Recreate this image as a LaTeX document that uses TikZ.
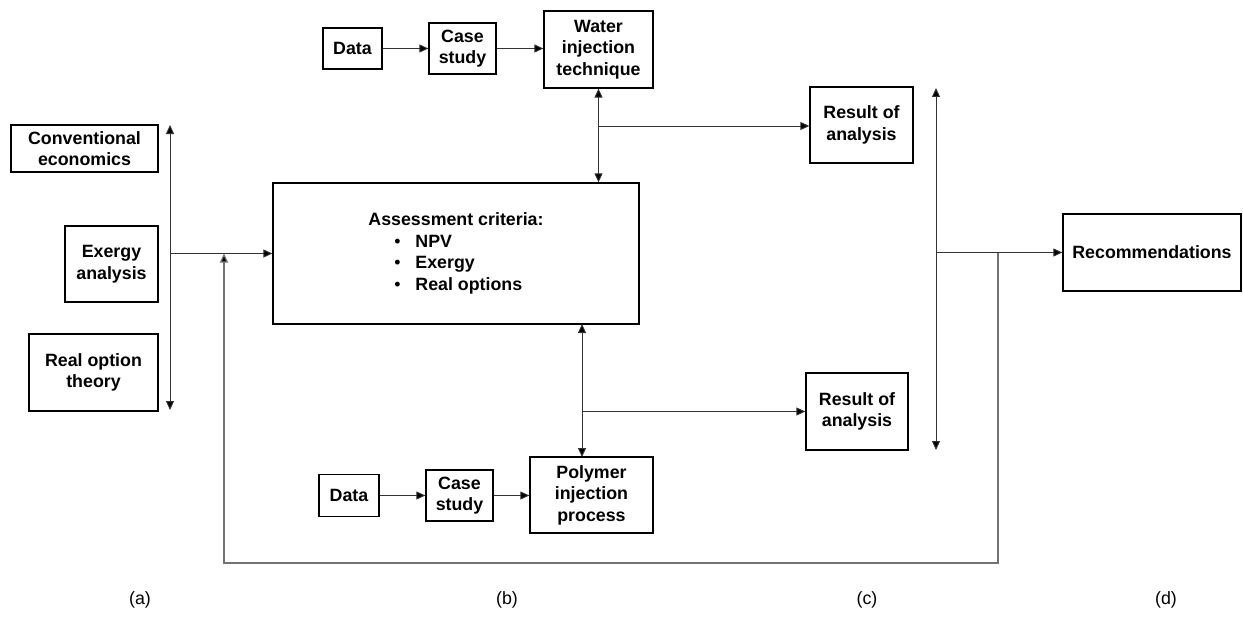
\documentclass[tikz,border=0pt]{standalone}
\usepackage{fontspec}
\setmainfont{Liberation Sans}
\usetikzlibrary{arrows.meta}
\begin{document}
\begin{tikzpicture}[x=1pt,y=-1pt,
  box/.style={draw=black,line width=1.3pt,inner sep=0pt,align=center,
    font=\fontsize{17.8}{21.5}\selectfont\bfseries},
  conn/.style={draw=black!80,line width=0.9pt},
  tip/.tip={Triangle[length=9pt,width=8pt,fill=black]},
  arr/.style={conn,-tip},
  darr/.style={conn,tip-tip},
  lab/.style={font=\fontsize{17.8}{21.5}\selectfont}]
\useasboundingbox (0,0) rectangle (1243,618);
% left column
\node[box,minimum width=147pt,minimum height=47pt] (conv) at (84.5,148.5) {Conventional\\economics};
\node[box,minimum width=93pt,minimum height=76pt] (exer) at (111.5,264) {Exergy\\analysis};
\node[box,minimum width=129pt,minimum height=77pt] (real) at (93.5,372.5) {Real option\\theory};
% top row
\node[box,minimum width=59pt,minimum height=41pt] (data1) at (352.5,48.5) {Data};
\node[box,minimum width=67pt,minimum height=51pt] (case1) at (462.5,48.5) {Case\\study};
\node[box,minimum width=109pt,minimum height=77pt] (water) at (598.5,49.5) {Water\\injection\\technique};
% assessment
\node[box,minimum width=366pt,minimum height=141pt] (assess) at (456,253.5) {\raisebox{-3pt}{\begin{tabular}{@{}l@{}}\multicolumn{1}{@{}c@{}}{Assessment criteria:}\\
\hspace*{26pt}\makebox[21pt][l]{\mdseries•}NPV\\
\hspace*{26pt}\makebox[21pt][l]{\mdseries•}Exergy\\
\hspace*{26pt}\makebox[21pt][l]{\mdseries•}Real options\end{tabular}}};
% results
\node[box,minimum width=103pt,minimum height=76pt] (res1) at (861.5,125) {Result of\\analysis};
\node[box,minimum width=102pt,minimum height=77pt] (res2) at (857,411.5) {Result of\\analysis};
\node[box,minimum width=178pt,minimum height=77pt] (recom) at (1152,252.5) {Recommendations};
% bottom row
\node[box,minimum width=60pt,minimum height=42pt] (data2) at (349,495.5) {Data};
\node[box,minimum width=67pt,minimum height=51pt] (case2) at (459.5,495.5) {Case\\study};
\node[box,minimum width=123pt,minimum height=76pt] (poly) at (591.5,495) {Polymer\\injection\\process};
% coordinates
\coordinate (lt) at (170,125);
\coordinate (lb) at (170,410);
\coordinate (lm) at (170,253.5);
\coordinate (fbl) at (224,563);
\coordinate (fbr) at (998,563);
\coordinate (fbt) at (998,252.5);
\coordinate (fbend) at (224,253.5);
\coordinate (rt) at (936,88);
\coordinate (rb) at (936,450);
\coordinate (rm) at (936,252.5);
\coordinate (wb) at (599,126);
\coordinate (pt) at (582,324);
\coordinate (pb) at (582,457);
\coordinate (pm) at (582,411.5);
% connectors
\draw[arr] (data1) -- (case1);
\draw[arr] (case1) -- (case1 -| water.west);
\draw[darr] (water.south) -- (water.south |- assess.north);
\draw[arr] (wb) -- (wb -| res1.west);
\draw[darr] (lt) -- (lb);
\draw[arr] (lm) -- (assess.west);
\draw[arr,draw=black!55,line width=1.2pt] (fbt) -- (fbr) -- (fbl) -- (fbend);
\draw[darr] (rt) -- (rb);
\draw[arr] (rm) -- (recom.west);
\draw[darr] (pt) -- (pb);
\draw[arr] (pm) -- (pm -| res2.west);
\draw[arr] (data2) -- (data2 -| case2.west);
\draw[arr] (case2) -- (case2 -| poly.west);
% labels
\node[lab] (la) at (140,600) {(a)};
\node[lab] (lbb) at (507,600) {(b)};
\node[lab] (lc) at (867,600) {(c)};
\node[lab] (ld) at (1166,600) {(d)};
\end{tikzpicture}
\end{document}
